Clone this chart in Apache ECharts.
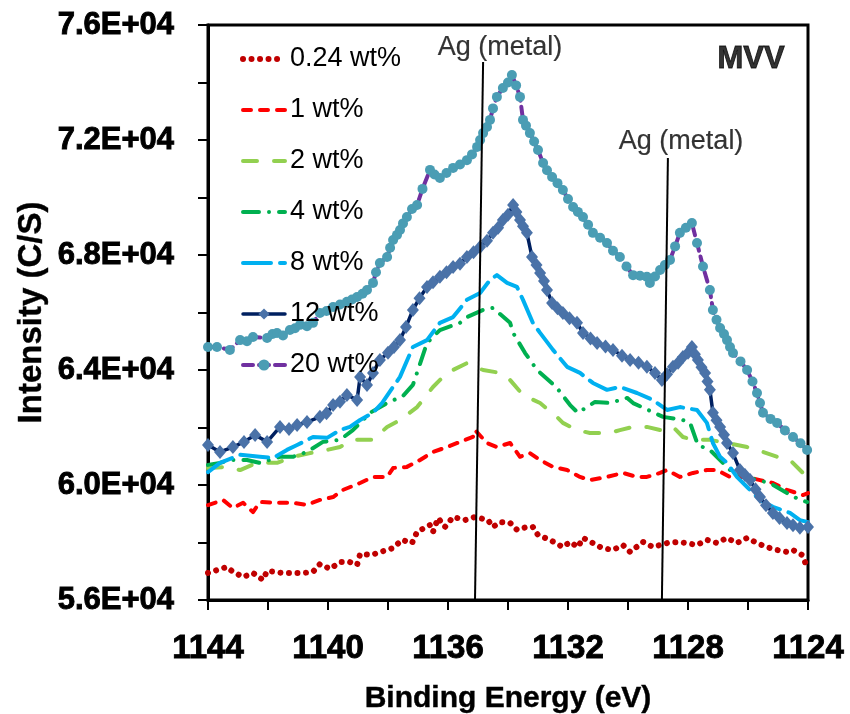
<!DOCTYPE html>
<html>
<head>
<meta charset="utf-8">
<script src="https://cdn.jsdelivr.net/npm/echarts@6/dist/echarts.min.js"></script>
<style>
html,body{margin:0;padding:0;background:#fff;}
#chart{width:850px;height:714px;}
</style>
</head>
<body>
<div id="chart"></div>
<script>
// Binding energy (eV), intensity (C/S) pairs
const seriesNames = ['0.24 wt%', '1 wt%', '2 wt%', '4 wt%', '8 wt%', '12 wt%', '20 wt%'];

const s024 = [[1144,56940],[1143.37,57150],[1143.17,56980],[1142.83,56800],[1142.5,56940],[1142.17,56700],[1142.03,57010],[1141.5,56940],[1141.17,56940],[1140.83,56940],[1140.5,56980],[1140.27,57250],[1139.93,57080],[1139.6,57320],[1139.27,57320],[1139.03,57220],[1138.93,57600],[1138.53,57570],[1138.27,57670],[1138.03,57740],[1137.83,57810],[1137.53,58090],[1137.2,57980],[1137.03,58370],[1136.6,58610],[1136.5,58370],[1136.33,58850],[1136.1,58540],[1135.83,58890],[1135.43,58780],[1135.1,58890],[1134.67,58780],[1134.5,58540],[1134.27,58710],[1133.93,58680],[1133.7,58440],[1133.37,58540],[1133.17,58540],[1133.0,58260],[1132.6,58090],[1132.17,57840],[1131.93,58020],[1131.67,57840],[1131.5,58160],[1131.17,57980],[1130.87,57810],[1130.5,57740],[1130.17,57910],[1129.93,57670],[1129.5,58020],[1129.17,57840],[1128.7,57980],[1128.33,58020],[1128.03,57980],[1127.7,57910],[1127.37,58090],[1127.03,57980],[1126.7,58160],[1126.37,57980],[1126.03,58160],[1125.7,57980],[1125.37,57840],[1125.03,57740],[1124.7,57670],[1124.5,57740],[1124.2,57570],[1124.03,57150]];

const s1 = [[1144,59300],[1143.5,59480],[1143.17,59200],[1142.83,59380],[1142.5,59060],[1142.27,59410],[1141.7,59380],[1141.17,59380],[1140.7,59310],[1140.27,59480],[1139.83,59580],[1139.5,59830],[1138.93,60070],[1138.5,60280],[1138.03,60280],[1137.83,60590],[1137.37,60630],[1136.93,60870],[1136.5,61150],[1136.03,61320],[1135.6,61500],[1135.17,61670],[1135.1,61910],[1134.7,61460],[1134.37,61320],[1133.93,61460],[1133.6,60980],[1133.27,61110],[1132.93,60870],[1132.5,60630],[1132.03,60520],[1131.6,60280],[1131.27,60170],[1130.7,60280],[1130.17,60420],[1129.7,60280],[1129.37,60280],[1128.93,60420],[1128.7,60520],[1128.27,60280],[1127.83,60420],[1127.37,60520],[1127.03,60520],[1126.6,60280],[1126.03,60280],[1125.6,60170],[1125.17,60070],[1124.7,59830],[1124.17,59650],[1124,59720]];

const s2 = [[1144,60590],[1143.37,60630],[1142.93,60520],[1142.37,60770],[1141.7,60770],[1141.17,60980],[1140.6,61110],[1140.03,61220],[1139.6,61320],[1139.17,61570],[1138.5,61570],[1138.03,62020],[1137.6,62260],[1137.03,62710],[1136.5,63410],[1136.03,63900],[1135.37,64240],[1134.83,64000],[1134.27,63900],[1133.93,63650],[1133.5,63130],[1132.93,62850],[1132.37,62370],[1132.17,62160],[1131.7,61910],[1131.27,61810],[1130.6,61810],[1130.27,61910],[1129.83,62020],[1129.37,62020],[1128.93,61910],[1128.5,62020],[1128.17,61670],[1127.83,61570],[1127.27,61570],[1126.7,61460],[1126.03,61320],[1125.5,61150],[1125.03,60980],[1124.6,60870],[1124.17,60420],[1124,60380]];

const s4 = [[1144,60700],[1143.6,60770],[1143.27,60870],[1142.7,60870],[1142.27,60770],[1141.6,60980],[1141.17,60980],[1140.7,61150],[1140.17,61500],[1139.6,61570],[1139.17,61910],[1138.83,62260],[1138.6,62510],[1138.03,62850],[1137.5,63100],[1137.17,63480],[1136.7,64940],[1136.27,65390],[1135.6,65640],[1135.37,65840],[1134.83,66090],[1134.5,66160],[1133.93,65640],[1133.83,65290],[1133.43,64590],[1133.03,64000],[1132.77,63760],[1132.37,63380],[1131.93,62780],[1131.67,62510],[1131.1,62890],[1130.6,62850],[1130.03,63030],[1129.83,62850],[1128.83,62370],[1128.17,62260],[1127.93,62160],[1127.67,61390],[1127.27,61220],[1126.93,60870],[1126.6,60520],[1126.03,60280],[1125.7,60170],[1125.27,60070],[1124.7,59720],[1124.27,59480],[1124.03,59410]];

const s8 = [[1144,60450],[1143.6,60770],[1142.93,61050],[1142.27,60980],[1141.83,60940],[1141.37,61220],[1141.03,61390],[1140.5,61670],[1140.03,61640],[1139.6,61910],[1139.27,62020],[1138.93,62260],[1138.5,62510],[1138.2,62850],[1137.6,63760],[1137.17,64800],[1136.7,65040],[1136.27,65640],[1135.83,65840],[1135.37,66440],[1134.93,66680],[1134.6,67130],[1134.37,67300],[1134.03,67030],[1133.7,66890],[1133.5,66440],[1133.17,65640],[1132.93,65290],[1132.5,64700],[1132.03,64110],[1131.6,63900],[1131.17,63550],[1130.7,63310],[1130.27,63410],[1129.7,63200],[1129.17,62960],[1128.7,62610],[1128.27,62710],[1127.7,62610],[1127.37,62160],[1127.17,61460],[1126.93,60980],[1126.7,60770],[1126.37,60280],[1126.03,59930],[1125.6,59480],[1125.17,59240],[1124.6,59030],[1124.27,58780],[1124,58710]];

const s12 = [[1144,61390],[1143.6,61150],[1143.17,61320],[1142.8,61500],[1142.43,61740],[1142.03,61500],[1141.6,62020],[1141.3,61950],[1141.03,62090],[1140.7,62190],[1140.27,62370],[1140.05,62500],[1139.83,62780],[1139.6,62900],[1139.37,63130],[1139.03,62960],[1138.93,63760],[1138.7,63480],[1138.5,63900],[1138.27,64350],[1138.0,64600],[1137.8,64800],[1137.6,65040],[1137.4,65500],[1137.17,66090],[1136.95,66500],[1136.7,66890],[1136.5,67050],[1136.27,67240],[1136.05,67400],[1135.83,67580],[1135.6,67700],[1135.37,67930],[1135.15,68100],[1134.93,68280],[1134.7,68500],[1134.5,68770],[1134.33,68950],[1134.17,69220],[1134.0,69400],[1133.83,69740],[1133.72,69500],[1133.6,69220],[1133.5,69000],[1133.37,68770],[1133.2,67930],[1133.05,67650],[1132.93,67370],[1132.8,67100],[1132.7,66780],[1132.53,66330],[1132.35,66150],[1132.17,65980],[1131.95,65800],[1131.7,65640],[1131.5,65290],[1131.25,65100],[1131.03,64940],[1130.75,64820],[1130.5,64700],[1130.2,64500],[1129.93,64350],[1129.65,64250],[1129.37,64110],[1129.1,63900],[1128.87,63650],[1128.7,63850],[1128.5,64110],[1128.33,64250],[1128.17,64450],[1128.0,64600],[1127.87,64800],[1127.77,64550],[1127.67,64350],[1127.55,64100],[1127.43,63900],[1127.35,63600],[1127.27,63310],[1127.17,62510],[1127.05,62250],[1126.93,62020],[1126.8,61750],[1126.7,61460],[1126.5,61110],[1126.27,60520],[1126.1,60350],[1125.93,60170],[1125.75,59850],[1125.6,59580],[1125.4,59300],[1125.17,59030],[1124.95,58850],[1124.7,58680],[1124.5,58600],[1124.27,58510],[1124,58540]];

const s20 = [[1144,64800],[1143.7,64800],[1143.27,64700],[1142.93,65040],[1142.7,65000],[1142.5,65150],[1142.03,65110],[1141.85,65250],[1141.7,65290],[1141.5,65200],[1141.27,65390],[1141.1,65450],[1140.93,65570],[1140.7,65520],[1140.5,65640],[1140.27,65980],[1140.05,66050],[1139.83,66190],[1139.6,66280],[1139.37,66370],[1139.2,66450],[1139.03,66540],[1138.85,66650],[1138.7,66780],[1138.5,67030],[1138.4,67400],[1138.27,67720],[1138.03,67930],[1137.93,68250],[1137.83,68520],[1137.7,68700],[1137.6,68870],[1137.5,69100],[1137.37,69320],[1137.2,69600],[1137.03,69740],[1136.85,70300],[1136.6,70960],[1136.45,70800],[1136.27,70680],[1136.05,70850],[1135.83,71030],[1135.6,71150],[1135.37,71300],[1135.2,71500],[1135.03,71760],[1134.93,72000],[1134.83,72240],[1134.7,72450],[1134.6,72700],[1134.5,73100],[1134.37,73500],[1134.17,73810],[1134.0,74000],[1133.87,74260],[1133.73,73900],[1133.6,73500],[1133.5,72700],[1133.4,72500],[1133.27,72240],[1133.13,71950],[1133.0,71650],[1132.83,71200],[1132.7,70950],[1132.53,70710],[1132.35,70500],[1132.17,70260],[1132.0,69950],[1131.83,69670],[1131.67,69500],[1131.5,69320],[1131.33,69050],[1131.17,68770],[1130.93,68600],[1130.7,68420],[1130.5,68150],[1130.27,67930],[1130.05,67600],[1129.83,67300],[1129.6,67280],[1129.37,67240],[1129.27,67030],[1129.1,67250],[1128.93,67480],[1128.77,67650],[1128.6,67830],[1128.43,68300],[1128.27,68770],[1128.07,68950],[1127.87,69110],[1127.7,68420],[1127.5,67600],[1127.27,66780],[1127.17,66090],[1127.05,65750],[1126.93,65460],[1126.8,65250],[1126.7,65040],[1126.6,64800],[1126.5,64590],[1126.25,64300],[1126.03,64000],[1125.85,63600],[1125.7,63200],[1125.6,62850],[1125.5,62510],[1125.25,62300],[1125.03,62160],[1124.77,61900],[1124.5,61670],[1124.25,61450],[1124.03,61220]];

// Annotations (positions in data units)
const notes = [
  {value: [1134.27, 75200], name: 'Ag (metal)', bold: false},
  {value: [1128.23, 71930], name: 'Ag (metal)', bold: false},
  {value: [1125.9, 74817], name: 'MVV', bold: true}
];
const agLines = [
  [[1134.83, 74713], [1135.1, 56000]],
  [[1128.67, 71374], [1128.87, 56000]]
];

const FONT = 'Liberation Sans';
const chart = echarts.init(document.getElementById('chart'), null, {renderer: 'canvas'});

const styles = [
  {color: '#C00000', width: 6, dash: [0.01, 8.5]},
  {color: '#FF0000', width: 4, dash: [8, 9]},
  {color: '#92D050', width: 4, dash: [14, 17]},
  {color: '#00B050', width: 4, dash: [16, 10, 0.01, 10]},
  {color: '#00B0F0', width: 4, dash: [28, 9]},
  {color: '#002060', width: 3.5, dash: 'solid', marker: 'diamond', markerSize: [12, 14], markerColor: '#4A72A8'},
  {color: '#7030A0', width: 4, dash: [10, 6], marker: 'circle', markerSize: 10, markerColor: '#4A9DB4'}
];
const seriesData = [s024, s1, s2, s4, s8, s12, s20];

const lineSeriesList = seriesNames.map(function (name, i) {
  const st = styles[i];
  const s = {
    name: name, type: 'line', data: seriesData[i],
    symbol: st.marker || 'none', showSymbol: !!st.marker,
    lineStyle: {color: st.color, width: st.width, type: st.dash, cap: 'round', join: 'round'},
    itemStyle: {color: st.markerColor || st.color},
    z: 2
  };
  if (st.marker) s.symbolSize = st.markerSize;
  return s;
});

const legendData = seriesNames.map(function (name, i) {
  const st = styles[i];
  const item = {name: name, lineStyle: {width: st.width, type: st.dash, color: st.color, cap: 'round'}};
  if (!st.marker) item.itemStyle = {opacity: 0, color: 'rgba(0,0,0,0)', borderWidth: 0};
  return item;
});

const boldStroke = {textBorderColor: '#000', textBorderWidth: 0.9};

const option = {
  animation: false,
  backgroundColor: '#fff',
  grid: {left: 208, right: 42, top: 25, bottom: 114, show: true, borderColor: '#000', borderWidth: 3,
    containLabel: false, outerBoundsMode: 'none'},
  legend: {
    data: legendData,
    orient: 'vertical',
    left: 240,
    top: 44,
    padding: 0,
    itemWidth: 42,
    itemHeight: 14,
    itemGap: 21,
    textStyle: {fontFamily: FONT, fontSize: 27, color: '#000', lineHeight: 30}
  },
  xAxis: {
    type: 'value', min: 1124, max: 1144, interval: 2, inverse: true,
    name: 'Binding Energy (eV)', nameLocation: 'middle', nameGap: 84, nameMoveOverlap: false,
    nameTextStyle: {fontFamily: FONT, fontSize: 30, fontWeight: 'bold', color: '#000', textBorderColor: '#000', textBorderWidth: 0.4},
    axisLine: {onZero: false, lineStyle: {color: '#000', width: 3}},
    axisTick: {inside: false, length: 10, lineStyle: {color: '#000', width: 2}},
    axisLabel: Object.assign({margin: 32, fontFamily: FONT, fontSize: 33, fontWeight: 'bold', color: '#000',
      formatter: function (v) { return v % 4 === 0 ? String(v) : ''; }}, boldStroke),
    splitLine: {show: false}
  },
  yAxis: {
    type: 'value', min: 56000, max: 76000, interval: 2000,
    name: 'Intensity (C/S)', nameLocation: 'middle', nameGap: 160, nameRotate: 90, nameMoveOverlap: false,
    nameTextStyle: {fontFamily: FONT, fontSize: 33, fontWeight: 'bold', color: '#000', textBorderColor: '#000', textBorderWidth: 0.4},
    axisLine: {onZero: false, lineStyle: {color: '#000', width: 3}},
    axisTick: {inside: false, length: 10, lineStyle: {color: '#000', width: 2}},
    axisLabel: Object.assign({margin: 34, fontFamily: FONT, fontSize: 31, fontWeight: 'bold', color: '#000',
      formatter: function (v) { return v % 4000 === 0 ? (v / 10000).toFixed(1) + 'E+04' : ''; }}, boldStroke),
    splitLine: {show: false}
  },
  series: lineSeriesList.concat([
    {
      type: 'lines', coordinateSystem: 'cartesian2d', silent: true, z: 5,
      data: agLines.map(function (p) { return {coords: p}; }),
      lineStyle: {color: '#000', width: 2, opacity: 1}
    },
    {
      type: 'scatter', silent: true, symbolSize: 0, z: 6,
      data: notes.map(function (n) {
        return {value: n.value, name: n.name,
          label: {show: true, position: 'inside', formatter: n.name, fontFamily: FONT,
            fontSize: n.bold ? 31 : 27, fontWeight: n.bold ? 'bold' : 'normal', color: '#000',
            textBorderColor: '#000', textBorderWidth: n.bold ? 0.9 : 0.2}};
      })
    }
  ])
};
chart.setOption(option);
</script>
</body>
</html>
